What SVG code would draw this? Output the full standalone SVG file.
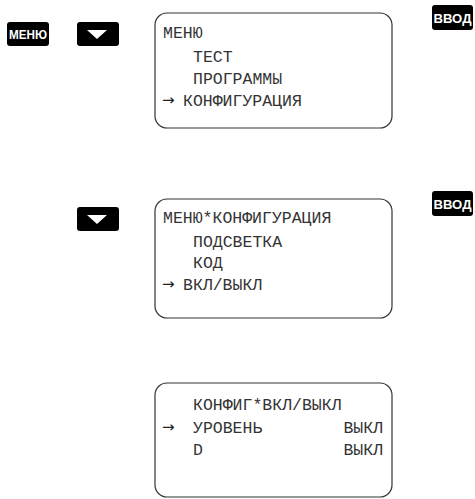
<svg xmlns="http://www.w3.org/2000/svg" width="475" height="499" viewBox="0 0 475 499">
<style>
.btn{fill:#000}
.bt{fill:#fff;font-family:"Liberation Sans",Arial,sans-serif;font-weight:bold;font-size:12.5px;text-anchor:middle}
.scr{fill:#fff;stroke:#333;stroke-width:1.2}
.t{fill:#333;font-family:"Liberation Mono","Courier New",monospace;font-size:16.5px}
.a{fill:#222;font-family:"DejaVu Sans",sans-serif;font-size:15px}
.r{text-anchor:end}
</style>
<rect width="475" height="499" fill="#fff"/>
<g id="btn-menu"><rect class="btn" x="7" y="22" width="42" height="24" rx="3"/><text class="bt" x="28" y="38.5" textLength="38" lengthAdjust="spacingAndGlyphs">МЕНЮ</text></g>
<g id="btn-down1"><rect class="btn" x="77" y="22" width="42" height="24" rx="3"/><polygon points="87,30 107,30 97,39" fill="#fff"/></g>
<g id="btn-enter1"><rect class="btn" x="432" y="5" width="41" height="25" rx="3"/><text class="bt" x="452.5" y="22.5" textLength="38" lengthAdjust="spacingAndGlyphs">ВВОД</text></g>
<g id="btn-down2"><rect class="btn" x="77" y="207" width="42" height="24" rx="3"/><polygon points="87,215 107,215 97,224" fill="#fff"/></g>
<g id="btn-enter2"><rect class="btn" x="432" y="191" width="41" height="25" rx="3"/><text class="bt" x="452.5" y="208.5" textLength="38" lengthAdjust="spacingAndGlyphs">ВВОД</text></g>
<g id="screen1"><rect class="scr" x="155" y="13" width="237" height="115" rx="12"/>
<text class="t" x="163" y="38">МЕНЮ</text>
<text class="t" x="193" y="62">ТЕСТ</text>
<text class="t" x="193" y="84">ПРОГРАММЫ</text>
<text class="a" x="162" y="105">→</text>
<text class="t" x="183" y="106">КОНФИГУРАЦИЯ</text></g>
<g id="screen2"><rect class="scr" x="155" y="199" width="237" height="119" rx="12"/>
<text class="t" x="163" y="223">МЕНЮ*КОНФИГУРАЦИЯ</text>
<text class="t" x="193" y="247">ПОДСВЕТКА</text>
<text class="t" x="193" y="268">КОД</text>
<text class="a" x="162" y="289">→</text>
<text class="t" x="183" y="290">ВКЛ/ВЫКЛ</text></g>
<g id="screen3"><rect class="scr" x="155" y="383" width="237" height="114" rx="12"/>
<text class="t" x="193" y="410">КОНФИГ*ВКЛ/ВЫКЛ</text>
<text class="a" x="162" y="432">→</text>
<text class="t" x="193" y="433">УРОВЕНЬ</text>
<text class="t r" x="383" y="433">ВЫКЛ</text>
<text class="t" x="193" y="455">D</text>
<text class="t r" x="383" y="455">ВЫКЛ</text></g>
<g id="connectors"></g>
</svg>
